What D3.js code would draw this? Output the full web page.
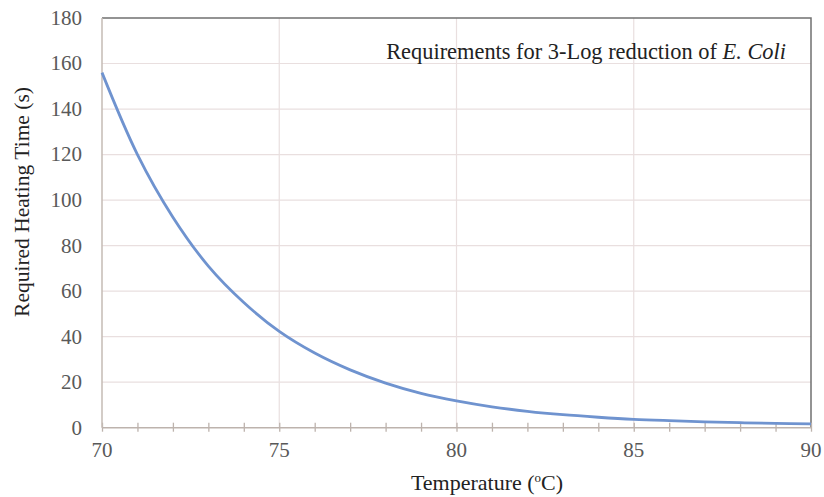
<!DOCTYPE html>
<html>
<head>
<meta charset="utf-8">
<script src="https://cdn.jsdelivr.net/npm/d3@7"></script>
<style>
  body { margin: 0; background: #fff; }
  svg text { font-family: "Liberation Serif", "Times New Roman", serif; }
</style>
</head>
<body>
<div class="chart"></div>
<script>
"use strict";

// values, one per degree
const temps = [70, 71, 72, 73, 74, 75, 76, 77, 78, 79, 80, 81, 82, 83, 84, 85, 86, 87, 88, 89, 90];
const times = [156, 120, 92.5, 71, 55, 42.3, 32.8, 25.4, 19.6, 15.1, 11.8, 9.2, 7.2, 5.7, 4.6, 3.7, 3.1, 2.6, 2.2, 1.9, 1.7];
const xTicks = [70, 75, 80, 85, 90];
const yTicks = [0, 20, 40, 60, 80, 100, 120, 140, 160, 180];

const width = 824;
const height = 497;
const margin = { top: 18, right: 13, bottom: 70, left: 102 };
const serif = '"Liberation Serif", "Times New Roman", serif';

const svg = d3
  .select(".chart")
  .append("svg")
  .attr("width", width)
  .attr("height", height);

const x = d3.scaleLinear().domain([70, 90]).range([margin.left, width - margin.right]);
const y = d3.scaleLinear().domain([0, 180]).range([height - margin.bottom + 0.7, margin.top]);

// grid
svg
  .selectAll(".hgrid")
  .data(yTicks.filter((d) => d > 0 && d < 180))
  .enter()
  .append("line")
  .attr("x1", x(70))
  .attr("x2", x(90))
  .attr("y1", (d) => y(d))
  .attr("y2", (d) => y(d))
  .style("stroke", "#e9dfdf")
  .style("stroke-width", 1.2);

svg
  .selectAll(".vgrid")
  .data(xTicks.filter((d) => d > 70 && d < 90))
  .enter()
  .append("line")
  .attr("x1", (d) => x(d))
  .attr("x2", (d) => x(d))
  .attr("y1", y(180))
  .attr("y2", y(0))
  .style("stroke", "#e9dfdf")
  .style("stroke-width", 1.2);

// top and right frame
svg
  .append("path")
  .attr("d", `M${x(70)},${y(180)}H${x(90)}V${y(0)}`)
  .style("fill", "none")
  .style("stroke", "#707070")
  .style("stroke-width", 1.5);

// axes
const xAxis = d3
  .axisBottom(x)
  .tickValues(d3.range(70, 91))
  .tickSize(4)
  .tickFormat("");
const gx = svg.append("g").attr("transform", `translate(0,${y(0)})`).call(xAxis);
gx.select(".domain").remove();
gx.selectAll(".tick line").attr("y1", -5).style("stroke", "#bdb3ad").style("stroke-width", 1.3);
gx.append("line")
  .attr("x1", x(70))
  .attr("x2", x(90))
  .style("stroke", "#bdb3ad")
  .style("stroke-width", 1.6);

svg
  .append("line")
  .attr("x1", x(70))
  .attr("x2", x(70))
  .attr("y1", y(180))
  .attr("y2", y(0))
  .style("stroke", "#c4bbb5")
  .style("stroke-width", 1.5);

// tick labels
svg
  .selectAll(".xlab")
  .data(xTicks)
  .enter()
  .append("text")
  .attr("x", (d) => x(d))
  .attr("y", 457)
  .attr("text-anchor", "middle")
  .style("font-family", serif)
  .style("font-size", "21px")
  .style("fill", "#595959")
  .text((d) => d);

svg
  .selectAll(".ylab")
  .data(yTicks)
  .enter()
  .append("text")
  .attr("x", 82)
  .attr("y", (d) => y(d))
  .attr("dy", "0.33em")
  .attr("text-anchor", "end")
  .style("font-family", serif)
  .style("font-size", "21px")
  .style("fill", "#595959")
  .text((d) => d);

// curve
const line = d3
  .line()
  .x((d, i) => x(temps[i]))
  .y((d) => y(d))
  .curve(d3.curveCatmullRom.alpha(0.5));

svg
  .append("path")
  .datum(times)
  .attr("d", line)
  .style("fill", "none")
  .style("stroke", "#6f93cf")
  .style("stroke-width", 2.8);

// axis titles
const xt = svg
  .append("text")
  .attr("x", 487)
  .attr("y", 490)
  .attr("text-anchor", "middle")
  .style("font-size", "22px")
  .style("fill", "#222");
xt.append("tspan").text("Temperature (");
xt.append("tspan").attr("dy", -8).style("font-size", "13px").text("o");
xt.append("tspan").attr("dy", 8).text("C)");

svg
  .append("text")
  .attr("transform", "translate(29,202) rotate(-90)")
  .attr("text-anchor", "middle")
  .style("font-size", "21.5px")
  .style("fill", "#222")
  .text("Required Heating Time (s)");

// annotation
const note = svg
  .append("text")
  .attr("x", 786)
  .attr("y", 59)
  .attr("text-anchor", "end")
  .style("font-size", "22.4px")
  .style("fill", "#222");
note.append("tspan").text("Requirements for 3-Log reduction of ");
note.append("tspan").style("font-style", "italic").text("E. Coli");
</script>
</body>
</html>
